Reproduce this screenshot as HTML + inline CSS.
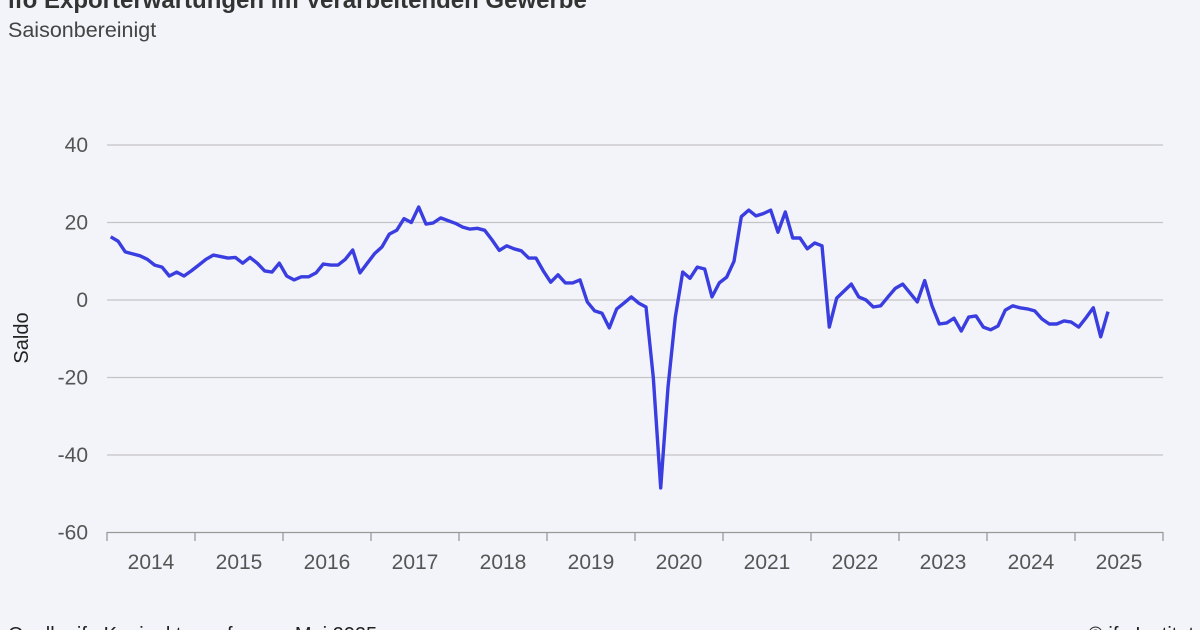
<!DOCTYPE html>
<html><head><meta charset="utf-8"><style>
body{margin:0;background:#f3f4f9;}
svg{display:block;font-family:"Liberation Sans",sans-serif;}
</style></head><body>
<svg width="1200" height="630">
<rect width="1200" height="630" fill="#f3f4f9"/>
<text x="8" y="8" font-size="24" font-weight="bold" fill="#333">ifo Exporterwartungen im Verarbeitenden Gewerbe</text>
<text x="8" y="37" font-size="21.5" fill="#444">Saisonbereinigt</text>
<text x="0" y="0" font-size="20" fill="#222" transform="translate(28,338) rotate(-90)" text-anchor="middle">Saldo</text>
<g id="grid"></g><g id="xaxis"></g>
<path id="line" fill="none" stroke="#3a3ee0" stroke-width="3.4" stroke-linejoin="round"/>
<text x="8" y="641" font-size="20" fill="#222">Quelle: ifo Konjunkturumfragen, Mai 2025</text>
<text x="1194" y="641" font-size="20" fill="#222" text-anchor="end">© ifo Institut</text>
</svg>
<script>
const yTicks=[40,20,0,-20,-40,-60];
const years=["2014","2015","2016","2017","2018","2019","2020","2021","2022","2023","2024","2025"];
const startYear=2014;
const values=[16.3,15.2,12.4,11.9,11.4,10.5,9,8.5,6.2,7.2,6.2,7.5,
9,10.5,11.6,11.2,10.8,11,9.5,11,9.5,7.5,7.2,9.5,
6.2,5.2,6,6,7,9.3,9,9,10.5,12.9,7,9.5,
12,13.7,17,18,21,20,24,19.6,19.9,21.2,20.5,19.8,
18.8,18.3,18.5,18,15.5,12.8,14,13.2,12.7,10.8,10.8,7.5,
4.6,6.5,4.4,4.4,5.2,-0.5,-2.8,-3.4,-7.2,-2.3,-0.8,0.8,
-0.8,-1.8,-20,-48.5,-22.5,-4.4,7.2,5.6,8.5,8,0.8,4.4,
5.9,10,21.5,23.2,21.7,22.3,23.2,17.5,22.7,16,16,13.2,
14.7,14,-7,0.5,2.3,4.1,0.8,0,-1.8,-1.5,0.8,3,
4.1,1.8,-0.5,5,-1.5,-6.2,-5.9,-4.7,-8,-4.4,-4.1,-7,
-7.7,-6.7,-2.6,-1.5,-2,-2.3,-2.8,-4.9,-6.2,-6.2,-5.4,-5.7,
-7,-4.6,-2,-9.5,-3];
const NS="http://www.w3.org/2000/svg";
const x0=107,yearW=88;
const yS=v=>300-v*3.875;
const xS=m=>x0+(m+0.5)*yearW/12;
const grid=document.getElementById('grid');
yTicks.forEach(t=>{
  const l=document.createElementNS(NS,'line');
  l.setAttribute('x1',x0);l.setAttribute('x2',1163);l.setAttribute('y1',yS(t));l.setAttribute('y2',yS(t));
  l.setAttribute('stroke',t===-60?'#999':'#c4c4c8');l.setAttribute('stroke-width','1.3');
  
  
  grid.appendChild(l);
  const tx=document.createElementNS(NS,'text');
  tx.setAttribute('x',88);tx.setAttribute('y',yS(t)+7);tx.setAttribute('text-anchor','end');
  tx.setAttribute('font-size','21');tx.setAttribute('fill','#555');tx.textContent=t;
  
  
  grid.appendChild(tx);
});
const xa=document.getElementById('xaxis');
for(let i=0;i<=years.length;i++){
  const x=x0+i*yearW;
  const l=document.createElementNS(NS,'line');
  l.setAttribute('x1',x);l.setAttribute('x2',x);l.setAttribute('y1',532);l.setAttribute('y2',541);
  l.setAttribute('stroke','#999');l.setAttribute('stroke-width','1.3');
  
  
  xa.appendChild(l);
  if(i<years.length){
    const tx=document.createElementNS(NS,'text');
    tx.setAttribute('x',x+yearW/2);tx.setAttribute('y',569);tx.setAttribute('text-anchor','middle');
    tx.setAttribute('font-size','21');tx.setAttribute('fill','#555');tx.textContent=years[i];
    
    
    xa.appendChild(tx);
  }
}
document.getElementById('line').setAttribute('d',values.map((v,i)=>(i?'L':'M')+xS(i).toFixed(1)+' '+yS(v).toFixed(1)).join(' '));
</script>
</body></html>
